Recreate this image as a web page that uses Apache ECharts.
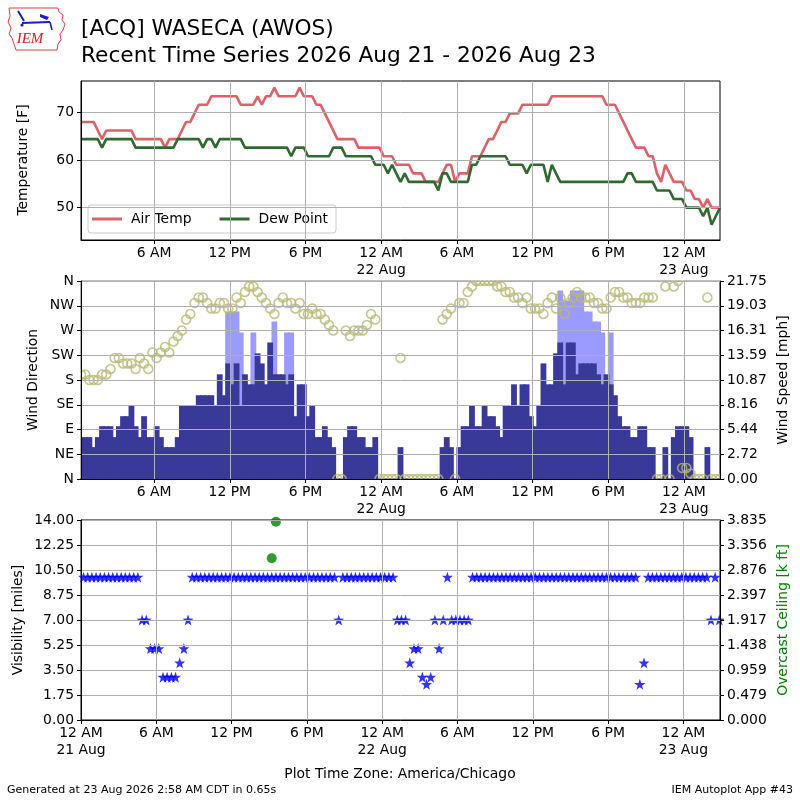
<!DOCTYPE html>
<html><head><meta charset="utf-8">
<script src="https://cdn.jsdelivr.net/npm/echarts@6.0.0/dist/echarts.min.js"></script>
<style>html,body{margin:0;padding:0;background:#fff}#c{width:800px;height:800px}</style>
</head><body><div id="c"></div>
<script>
// ---- observation schedule (hours since 21 Aug 00:00 local) ----
const OBS_START_H = 0.2;
const OBS_STEP_H = 1 / 3; // 20-minute AWOS reports

// ---- Air temperature [F] ----
const tempF = [
68.0,68.0,68.0,68.0,66.2,64.4,66.2,66.2,66.2,66.2,
66.2,66.2,66.2,64.4,64.4,64.4,64.4,64.4,64.4,64.4,
62.6,64.4,64.4,64.4,66.2,68.0,68.0,69.8,71.6,71.6,
71.6,73.4,73.4,73.4,73.4,73.4,73.4,73.4,71.6,71.6,
71.6,71.6,73.4,71.6,73.4,73.4,75.2,73.4,73.4,73.4,
73.4,73.4,75.2,73.4,73.4,73.4,71.6,71.6,69.8,68.0,
66.2,64.4,64.4,64.4,64.4,64.4,62.6,62.6,62.6,62.6,
62.6,62.6,60.8,60.8,60.8,59.0,59.0,59.0,59.0,57.2,
57.2,57.2,55.4,55.4,55.4,55.4,57.2,59.0,59.0,55.4,
57.2,57.2,57.2,60.8,60.8,60.8,62.6,64.4,64.4,66.2,
68.0,68.0,69.8,69.8,69.8,71.6,71.6,71.6,71.6,71.6,
71.6,71.6,73.4,73.4,73.4,73.4,73.4,73.4,73.4,73.4,
73.4,73.4,73.4,73.4,73.4,71.6,71.6,71.6,69.8,68.0,
66.2,64.4,62.6,62.6,62.6,60.8,60.8,57.2,55.4,59.0,
57.2,55.4,55.4,55.4,53.6,53.6,51.8,51.8,50.0,51.8,
50.0,50.0,50.0];

// ---- Dew point [F] ----
const dewF = [
64.4,64.4,64.4,64.4,64.4,62.6,64.4,64.4,64.4,64.4,
64.4,64.4,64.4,62.6,62.6,62.6,62.6,62.6,62.6,62.6,
62.6,62.6,62.6,64.4,64.4,64.4,64.4,64.4,64.4,62.6,
64.4,64.4,62.6,64.4,64.4,64.4,64.4,64.4,64.4,62.6,
62.6,62.6,62.6,62.6,62.6,62.6,62.6,62.6,62.6,62.6,
60.8,62.6,62.6,62.6,60.8,60.8,60.8,60.8,60.8,60.8,
62.6,62.6,62.6,60.8,60.8,60.8,60.8,60.8,60.8,60.8,
59.0,59.0,59.0,57.2,59.0,57.2,55.4,57.2,55.4,55.4,
55.4,55.4,55.4,55.4,55.4,53.6,57.2,57.2,55.4,55.4,
55.4,55.4,55.4,59.0,59.0,60.8,60.8,60.8,60.8,60.8,
60.8,60.8,59.0,59.0,59.0,59.0,57.2,59.0,59.0,59.0,
59.0,55.4,59.0,57.2,55.4,55.4,55.4,55.4,55.4,55.4,
55.4,55.4,55.4,55.4,55.4,55.4,55.4,55.4,55.4,55.4,
57.2,57.2,55.4,55.4,55.4,55.4,55.4,53.6,53.6,53.6,
53.6,51.8,51.8,51.8,50.0,50.0,50.0,50.0,48.2,50.0,
46.4,48.2,50.0];

// ---- Wind direction [deg], 0 = calm ----
const windDirDeg = [
190,190,180,180,180,190,190,200,220,220,
210,210,210,200,220,210,200,230,220,230,
240,230,250,260,270,290,300,320,330,330,
320,310,310,320,320,310,310,330,320,340,
350,350,340,330,320,310,300,320,330,320,
320,310,320,300,300,310,300,300,290,280,
270,0,0,270,260,270,270,270,280,300,
290,0,0,0,0,0,220,0,0,0,
0,0,0,0,0,0,290,300,310,0,
320,320,340,350,360,360,360,360,360,350,
350,340,340,330,330,320,330,310,310,310,
300,320,330,310,330,300,320,330,340,330,
330,330,320,320,310,310,330,340,340,330,
330,320,320,320,330,330,330,0,0,350,
0,350,360,20,20,10,0,0,0,330,
0,0,0];

// ---- Wind speed [mph] ----
const windSpeedMph = [
4.6,4.6,4.6,3.5,4.6,5.8,5.8,5.8,4.6,5.8,
6.9,6.9,8.1,5.8,4.6,6.9,4.6,4.6,5.8,4.6,
3.5,3.5,3.5,4.6,8.1,8.1,8.1,8.1,9.2,9.2,
9.2,9.2,8.1,11.5,9.2,12.7,10.4,12.7,8.1,11.5,
10.4,10.4,13.8,12.7,10.4,15.0,11.5,11.5,11.5,10.4,
11.5,6.9,10.4,10.4,6.9,8.1,4.6,4.6,5.8,4.6,
3.5,0,0,4.6,5.8,5.8,4.6,4.6,3.5,3.5,
4.6,0,0,0,0,0,3.5,0,0,0,
0,0,0,0,0,0,3.5,4.6,3.5,0,
3.5,5.8,5.8,8.1,5.8,5.8,8.1,6.9,6.9,5.8,
4.6,8.1,8.1,10.4,8.1,10.4,10.4,6.9,5.8,8.1,
12.7,10.4,10.4,13.8,15.0,10.4,15.0,15.0,11.5,12.7,
12.7,12.7,12.7,11.5,10.4,11.5,10.4,9.2,6.9,5.8,
5.8,4.6,4.6,5.8,5.8,3.5,3.5,0,0,3.5,
0,4.6,5.8,5.8,5.8,4.6,0,0,0,3.5,
0,0,0];

// ---- Wind gusts [mph]: [observation index, gust] ----
const windGustMph = [
[35,18.4],[36,18.4],[37,18.4],[38,16.1],[41,16.1],[46,17.3],[49,16.1],[50,16.1],
[114,20.7],[115,19.6],[116,19.6],[117,20.7],[118,20.7],[119,20.7],
[120,18.4],[121,18.4],[122,17.3],[123,17.3],[124,16.1],[126,16.1]];

// ---- Visibility [miles] ----
const visMiles = [
10,10,10,10,10,10,10,10,10,10,
10,10,10,10,7,7,5,5,5,3,
3,3,3,4,5,7,10,10,10,10,
10,10,10,10,10,10,10,10,10,10,
10,10,10,10,10,10,10,10,10,10,
10,10,10,10,10,10,10,10,10,10,
10,7,10,10,10,10,10,10,10,10,
10,10,10,10,10,7,7,7,4,5,
5,3,2.5,3,7,5,7,10,7,7,
7,7,7,10,10,10,10,10,10,10,
10,10,10,10,10,10,10,10,10,10,
10,10,10,10,10,10,10,10,10,10,
10,10,10,10,10,10,10,10,10,10,
10,10,10,2.5,4,10,10,10,10,10,
10,10,10,10,10,10,10,10,10,10,
7,10,7];

// ---- Overcast ceiling [k ft]: [observation index, ceiling] ----
const ceilingKft = [[45,3.1],[46,3.8]];

// ---- tick labels ----
const xTickHours = [0,6,12,18,24,30,36,42,48];
const xTickLabels = ['12 AM\n21 Aug','6 AM','12 PM','6 PM','12 AM\n22 Aug','6 AM','12 PM','6 PM','12 AM\n23 Aug'];
const tempTicks = [50,60,70];
const dirTickLabels = ['N','NE','E','SE','S','SW','W','NW','N'];
const speedTickLabels = ['0.00','2.72','5.44','8.16','10.87','13.59','16.31','19.03','21.75'];
const visTickLabels = ['0.00','1.75','3.50','5.25','7.00','8.75','10.50','12.25','14.00'];
const ceilTickLabels = ['0.000','0.479','0.959','1.438','1.917','2.397','2.876','3.356','3.835'];

// ---------------------------------------------------------------
const FONT = 'DejaVu Sans';
const FS = 13.9;
const obsHours = [];
for (let k = 0; k < tempF.length; k++) obsHours.push(OBS_START_H + k * OBS_STEP_H);
const pairs = arr => arr.map((v, i) => [obsHours[i], v]);
const sparse = arr => arr.map(([i, v]) => [obsHours[i], v]);
const tObsMin = obsHours[0], tObsMax = obsHours[obsHours.length - 1];

const SPEED_MAX = 21.75, SPEED_STEP = SPEED_MAX / 8;
const CEIL_MAX = 3.835, CEIL_STEP = CEIL_MAX / 8;

function xLabel(v) {
  const i = xTickHours.indexOf(Math.round(v));
  return i >= 0 ? xTickLabels[i] : '';
}
const topTickHours = xTickHours.filter(h => h >= tObsMin && h <= tObsMax);

function xAxisFor(gridIndex, min, max, ticks) {
  return {
    type: 'value', gridIndex, min, max, z: 10,
    axisLine: { show: true, onZero: false, lineStyle: { color: '#000', width: 1 } },
    axisTick: { show: true, customValues: ticks, length: 4, lineStyle: { color: '#000' } },
    axisLabel: { customValues: ticks, formatter: xLabel, color: '#000', fontSize: FS, fontFamily: FONT,
                 lineHeight: 17, margin: 4.5, showMinLabel: true, showMaxLabel: true },
    splitLine: { show: true, lineStyle: { color: '#b0b0b0', width: 1 } }
  };
}
const yBase = {
  type: 'value', z: 10,
  axisLine: { show: true, onZero: false, lineStyle: { color: '#000', width: 1 } },
  axisTick: { show: true, length: 4, lineStyle: { color: '#000' } },
  axisLabel: { color: '#000', fontSize: FS, fontFamily: FONT, margin: 7 }
};

const gridStyle = { show: true, borderColor: '#000', borderWidth: 1, backgroundColor: 'rgba(0,0,0,0)', left: 81, right: 80 };

const starPath = 'path://M12,0.5 L14.9,8.9 L23.8,9.1 L16.7,14.5 L19.3,23 L12,18 L4.7,23 L7.3,14.5 L0.2,9.1 L9.1,8.9 Z';

const rotText = (text, x, y, color) => ({
  type: 'text', x, y, rotation: Math.PI / 2, z: 20,
  style: { text, fill: color || '#000', font: FS + 'px "' + FONT + '"', textAlign: 'center', textVerticalAlign: 'middle' }
});
const whiteRect = (x, y, w, h) => ({ type: 'rect', z: 5, silent: true, shape: { x, y, width: w, height: h }, style: { fill: '#fff' } });

const GUST_COLOR = '#9b9bff', SPEED_COLOR = '#393999';

// bars spanning one 20-minute report slot, positioned through the axis scales
function slotBar(color) {
  return function (params, api) {
    const t = api.value(0), v = api.value(1);
    if (!v) return null;
    const p0 = api.coord([t - OBS_STEP_H / 2, 0]);
    const p1 = api.coord([t + OBS_STEP_H / 2, v]);
    const cs = params.coordSys;
    const shape = echarts.graphic.clipRectByRect(
      { x: p0[0] - 0.8, y: p1[1], width: p1[0] - p0[0] + 1.6, height: p0[1] - p1[1] },
      { x: cs.x, y: cs.y, width: cs.width, height: cs.height });
    if (!shape) return null;
    return { type: 'rect', shape, style: { fill: color } };
  };
}

const option = {
  animation: false,
  backgroundColor: '#fff',
  textStyle: { fontFamily: FONT },
  grid: [
    Object.assign({ top: 81, height: 159 }, gridStyle),
    Object.assign({ top: 281, height: 198 }, gridStyle),
    Object.assign({ top: 520, height: 200 }, gridStyle)
  ],
  legend: {
    data: ['Air Temp', 'Dew Point'], left: 88, top: 205, orient: 'horizontal',
    icon: 'rect', itemWidth: 30, itemHeight: 3, itemGap: 28,
    padding: [6, 8, 6, 4],
    backgroundColor: 'rgba(255,255,255,0.8)', borderColor: '#cccccc', borderWidth: 1, borderRadius: 3,
    textStyle: { color: '#000', fontSize: FS, fontFamily: FONT, padding: [0, 0, 0, 4], lineHeight: 16 }
  },
  xAxis: [
    xAxisFor(0, tObsMin, tObsMax, topTickHours),
    xAxisFor(1, tObsMin, tObsMax, topTickHours),
    xAxisFor(2, 0, 50.92, xTickHours)
  ],
  yAxis: [
    Object.assign({}, yBase, { gridIndex: 0, min: 43.2, max: 76.6,
      axisTick: Object.assign({}, yBase.axisTick, { customValues: tempTicks }),
      axisLabel: Object.assign({}, yBase.axisLabel, { customValues: tempTicks }),
      splitLine: { show: true, lineStyle: { color: '#b0b0b0', width: 1 } } }),
    Object.assign({}, yBase, { gridIndex: 1, min: 0, max: 360, interval: 45,
      axisLabel: Object.assign({}, yBase.axisLabel, { formatter: v => dirTickLabels[Math.round(v / 45)] }),
      splitLine: { show: true, lineStyle: { color: '#b0b0b0', width: 1 } } }),
    Object.assign({}, yBase, { gridIndex: 1, position: 'right', min: 0, max: SPEED_MAX, interval: SPEED_STEP,
      axisLabel: Object.assign({}, yBase.axisLabel, { formatter: v => speedTickLabels[Math.round(v / SPEED_STEP)] }),
      splitLine: { show: false } }),
    Object.assign({}, yBase, { gridIndex: 2, min: 0, max: 14, interval: 1.75,
      axisLabel: Object.assign({}, yBase.axisLabel, { formatter: v => visTickLabels[Math.round(v / 1.75)] }),
      splitLine: { show: true, lineStyle: { color: '#b0b0b0', width: 1 } } }),
    Object.assign({}, yBase, { gridIndex: 2, position: 'right', min: 0, max: CEIL_MAX, interval: CEIL_STEP,
      axisLabel: Object.assign({}, yBase.axisLabel, { formatter: v => ceilTickLabels[Math.round(v / CEIL_STEP)] }),
      splitLine: { show: false } })
  ],
  series: [
    { name: 'Air Temp', type: 'line', xAxisIndex: 0, yAxisIndex: 0, data: pairs(tempF),
      symbol: 'none', z: 3, lineStyle: { color: '#de6167', width: 2.6 }, itemStyle: { color: '#de6167' } },
    { name: 'Dew Point', type: 'line', xAxisIndex: 0, yAxisIndex: 0, data: pairs(dewF),
      symbol: 'none', z: 3, lineStyle: { color: '#2f6a2f', width: 2.6 }, itemStyle: { color: '#2f6a2f' } },
    { name: 'Gust', type: 'custom', xAxisIndex: 1, yAxisIndex: 2, data: sparse(windGustMph),
      renderItem: slotBar(GUST_COLOR), encode: { x: 0, y: 1 }, z: 2 },
    { name: 'Speed', type: 'custom', xAxisIndex: 1, yAxisIndex: 2, data: pairs(windSpeedMph),
      renderItem: slotBar(SPEED_COLOR), encode: { x: 0, y: 1 }, z: 2 },
    { name: 'Direction', type: 'scatter', xAxisIndex: 1, yAxisIndex: 1, data: pairs(windDirDeg),
      symbol: 'circle', symbolSize: 9, z: 4,
      itemStyle: { color: 'rgba(0,0,0,0)', borderColor: '#b9b872', borderWidth: 1.6 } },
    { name: 'Visibility', type: 'scatter', xAxisIndex: 2, yAxisIndex: 3, data: pairs(visMiles),
      symbol: starPath, symbolSize: 11, z: 4, itemStyle: { color: '#0000ff' } },
    { name: 'Ceiling', type: 'scatter', xAxisIndex: 2, yAxisIndex: 4, data: sparse(ceilingKft),
      symbol: 'circle', symbolSize: 10, z: 4, itemStyle: { color: '#008000' } }
  ],
  graphic: [
    // clip half symbols outside the wind panel
    whiteRect(70, 272.5, 660, 8),
    whiteRect(70, 479.6, 660, 7),
    whiteRect(70, 282, 10.4, 196),
    whiteRect(720.6, 282, 10, 196),
    // titles
    { type: 'text', x: 81, y: 29, z: 20, style: { text: '[ACQ] WASECA (AWOS)', fill: '#000', font: '21.7px "DejaVu Sans"', textVerticalAlign: 'middle' } },
    { type: 'text', x: 81, y: 56, z: 20, style: { text: 'Recent Time Series 2026 Aug 21 - 2026 Aug 23', fill: '#000', font: '21.7px "DejaVu Sans"', textVerticalAlign: 'middle' } },
    // axis names
    rotText('Temperature [F]', 23, 160),
    rotText('Wind Direction', 33, 380),
    rotText('Wind Speed [mph]', 783, 380),
    rotText('Visibility [miles]', 18, 620),
    rotText('Overcast Ceiling [k ft]', 783, 620, '#008000'),
    { type: 'text', x: 400, y: 774, z: 20, style: { text: 'Plot Time Zone: America/Chicago', fill: '#000', font: FS + 'px "DejaVu Sans"', textAlign: 'center', textVerticalAlign: 'middle' } },
    // footer
    { type: 'text', x: 7, y: 790, z: 20, style: { text: 'Generated at 23 Aug 2026 2:58 AM CDT in 0.65s', fill: '#000', font: '11px "DejaVu Sans"', textVerticalAlign: 'middle' } },
    { type: 'text', x: 793, y: 790, z: 20, style: { text: 'IEM Autoplot App #43', fill: '#000', font: '11px "DejaVu Sans"', textAlign: 'right', textVerticalAlign: 'middle' } },
    // IEM logo
    { type: 'polyline', z: 20, shape: { points: [[9,8],[58,8],[59,12],[63,15],[62,20],[65,24],[63,30],[60,34],[61,40],[58,44],[57,50],[16,50],[14,44],[12,38],[9,34],[11,28],[8,22],[10,16],[9,8]] },
      style: { stroke: '#e04040', lineWidth: 1, fill: 'none' } },
    { type: 'line', z: 20, shape: { x1: 22, y1: 23, x2: 50, y2: 22 }, style: { stroke: '#1a1ad0', lineWidth: 2 } },
    { type: 'line', z: 20, shape: { x1: 18, y1: 11, x2: 24, y2: 21 }, style: { stroke: '#1a1ad0', lineWidth: 2 } },
    { type: 'polygon', z: 20, shape: { points: [[40,14],[49,17],[47,20],[40,17]] }, style: { fill: '#1a1ad0' } },
    { type: 'line', z: 20, shape: { x1: 50, y1: 22, x2: 52, y2: 30 }, style: { stroke: '#1a1ad0', lineWidth: 1.5 } },
    { type: 'circle', z: 20, shape: { cx: 22, cy: 25, r: 1.6 }, style: { fill: '#1a1ad0' } },
    { type: 'text', x: 30, y: 39, z: 20, style: { text: 'IEM', fill: '#d02020', font: 'italic 15px "Liberation Serif"', textAlign: 'center', textVerticalAlign: 'middle' } }
  ]
};

const chart = echarts.init(document.getElementById('c'), null, { renderer: 'canvas', width: 800, height: 800 });
chart.setOption(option);
</script></body></html>
